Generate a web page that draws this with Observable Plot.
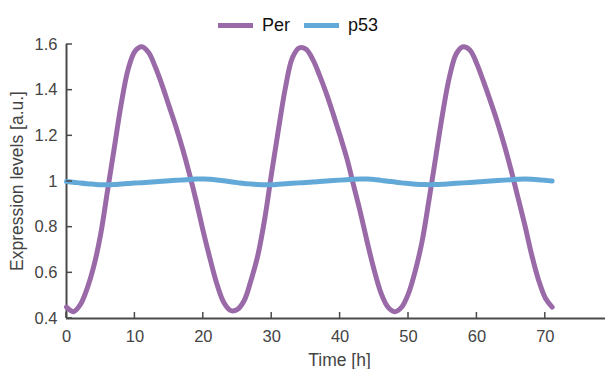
<!DOCTYPE html>
<html>
<head>
<meta charset="utf-8">
<script src="https://cdn.jsdelivr.net/npm/d3@7"></script>
<script src="https://cdn.jsdelivr.net/npm/@observablehq/plot@0.6"></script>
<style>
  html, body { margin: 0; padding: 0; background: #fff; }
  #wrap { position: relative; width: 605px; height: 369px; font-family: "Liberation Sans", Arial, sans-serif; }
  #legend { position: absolute; top: 14px; left: 218px; display: flex; align-items: center; font-size: 18px; color: #111; line-height: 22px; }
  .sw { display: inline-block; width: 35px; height: 5px; margin-right: 9px; }
  .item { display: flex; align-items: center; margin-right: 14px; }
</style>
</head>
<body>
<div id="wrap"><div id="legend"></div></div>
<script>
const hours = d3.range(0, 72);
const perValues = [
  0.45, 0.43, 0.46, 0.53, 0.63, 0.77, 0.96, 1.15, 1.34, 1.49,
  1.57, 1.59, 1.565, 1.50, 1.42, 1.33, 1.24, 1.14, 1.03, 0.91,
  0.78, 0.66, 0.55, 0.47, 0.435, 0.44, 0.48, 0.57, 0.68, 0.84,
  1.04, 1.23, 1.41, 1.54, 1.585, 1.58, 1.535, 1.465, 1.385, 1.295,
  1.20, 1.10, 0.98, 0.86, 0.73, 0.61, 0.51, 0.45, 0.43, 0.45,
  0.51, 0.61, 0.74, 0.92, 1.11, 1.30, 1.46, 1.56, 1.59, 1.575,
  1.515, 1.435, 1.35, 1.26, 1.16, 1.05, 0.93, 0.81, 0.68, 0.57,
  0.49, 0.45
];
const p53Values = [
  1.000, 0.997, 0.993, 0.990, 0.988, 0.986, 0.986, 0.987, 0.989, 0.991,
  0.993, 0.995, 0.997, 0.999, 1.001, 1.003, 1.005, 1.007, 1.009, 1.011,
  1.011, 1.010, 1.007, 1.003, 0.999, 0.995, 0.991, 0.989, 0.987, 0.986,
  0.986, 0.988, 0.990, 0.992, 0.994, 0.996, 0.998, 1.000, 1.002, 1.004,
  1.006, 1.008, 1.010, 1.011, 1.011, 1.009, 1.005, 1.001, 0.998, 0.994,
  0.991, 0.988, 0.987, 0.986, 0.987, 0.988, 0.990, 0.992, 0.994, 0.996,
  0.998, 1.000, 1.002, 1.004, 1.006, 1.008, 1.010, 1.011, 1.010, 1.008,
  1.005, 1.002
];
const seriesNames = ["Per", "p53"];
const seriesColors = ["#9a6aa8", "#63a9d8"];
const xTicks = [0, 10, 20, 30, 40, 50, 60, 70];
const yTicks = [0.4, 0.6, 0.8, 1.0, 1.2, 1.4, 1.6];
const yTickLabels = ["0.4", "0.6", "0.8", "1", "1.2", "1.4", "1.6"];

const rows = [];
hours.forEach((t, i) => {
  rows.push({t, v: perValues[i], s: "Per"});
  rows.push({t, v: p53Values[i], s: "p53"});
});

const axisColor = "#4a4a4a";
const chart = Plot.plot({
  width: 605,
  height: 369,
  marginLeft: 66,
  marginRight: 0,
  marginTop: 44,
  marginBottom: 51,
  style: {fontFamily: "'Liberation Sans', Arial, sans-serif", fontSize: "16.5px", color: "#444", background: "#fff"},
  x: {domain: [0, 78.8]},
  y: {domain: [0.4, 1.6]},
  color: {domain: seriesNames, range: seriesColors},
  marks: [
    Plot.ruleY([0.4], {stroke: axisColor, strokeWidth: 2}),
    Plot.ruleX([0], {y1: 0.4, y2: 1.6, stroke: axisColor, strokeWidth: 2}),
    Plot.axisX({ticks: xTicks, tickSize: 0, tickPadding: 12, tickFormat: d => String(d), label: null, fill: "#444", fontSize: 16.5}),
    Plot.axisY({ticks: yTicks, tickSize: 0, tickPadding: 9, tickFormat: (d, i) => yTickLabels[i], label: null, fill: "#444", fontSize: 16.5}),
    Plot.line(rows, {x: "t", y: "v", z: "s", stroke: "s", strokeWidth: 5, curve: "catmull-rom"})
  ]
});
document.getElementById("wrap").appendChild(chart);

const svg = d3.select(chart);
const sx = chart.scale("x"), sy = chart.scale("y");
// inward ticks
const tg = svg.append("g").attr("stroke", axisColor).attr("stroke-width", 1.5);
xTicks.forEach(t => tg.append("line").attr("x1", sx.apply(t)).attr("x2", sx.apply(t)).attr("y1", sy.apply(0.4)).attr("y2", sy.apply(0.4) - 6));
yTicks.forEach(v => tg.append("line").attr("x1", sx.apply(0)).attr("x2", sx.apply(0) + 6).attr("y1", sy.apply(v)).attr("y2", sy.apply(v)));
// axis titles
const xMid = (sx.apply(0) + 605) / 2;
svg.append("text").attr("x", xMid + 4).attr("y", 365.5).attr("text-anchor", "middle")
  .attr("font-size", 17.5).attr("fill", "#444").text("Time [h]");
const yMid = (sy.apply(0.4) + sy.apply(1.6)) / 2;
svg.append("text").attr("transform", `translate(23,${yMid}) rotate(-90)`).attr("text-anchor", "middle")
  .attr("font-size", 17.5).attr("fill", "#444").text("Expression levels [a.u.]");

const legend = document.getElementById("legend");
seriesNames.forEach((n, i) => {
  const it = document.createElement("div");
  it.className = "item";
  it.innerHTML = `<span class="sw" style="background:${seriesColors[i]}"></span><span>${n}</span>`;
  legend.appendChild(it);
});
</script>
</body>
</html>
